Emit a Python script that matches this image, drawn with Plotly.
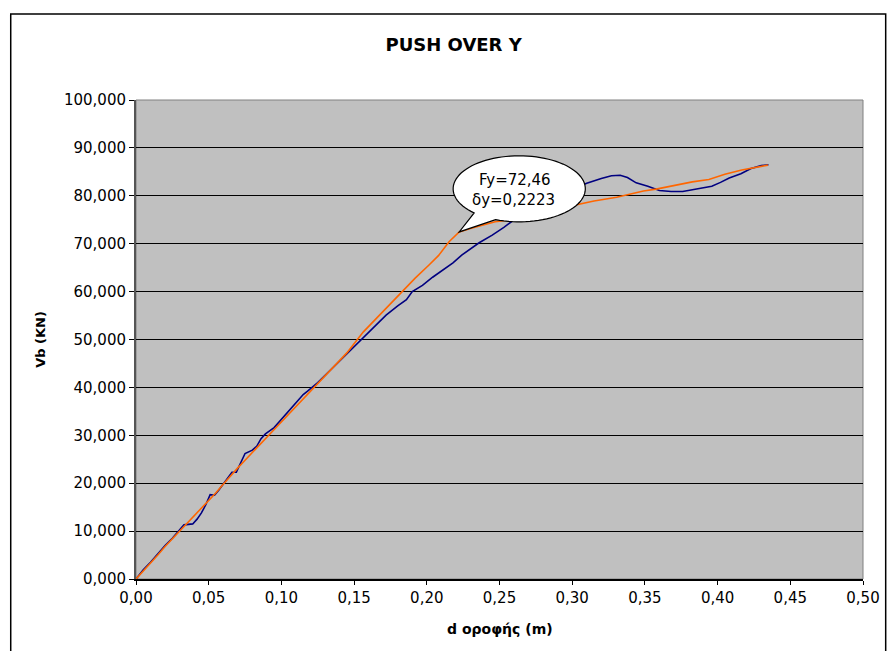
import numpy as np
import plotly.graph_objects as go

# ---------------- data ----------------
chart_title = "PUSH OVER Y"
x_title = "d οροφής (m)"
y_title = "Vb (KN)"

d_blue = [0, 0.005, 0.01, 0.015, 0.02, 0.025, 0.03, 0.033, 0.039, 0.042, 0.045, 0.048,
          0.051, 0.054, 0.057, 0.061, 0.064, 0.066, 0.069, 0.072, 0.075, 0.080, 0.083,
          0.086, 0.089, 0.095, 0.100, 0.105, 0.110, 0.115, 0.118, 0.125, 0.135, 0.145,
          0.154, 0.163, 0.172, 0.180, 0.186, 0.190, 0.197, 0.204, 0.211, 0.218, 0.224,
          0.230, 0.236, 0.245, 0.253, 0.2605, 0.270, 0.280, 0.290, 0.300, 0.310, 0.320,
          0.327, 0.333, 0.338, 0.344, 0.352, 0.360, 0.368, 0.376, 0.383, 0.390, 0.396,
          0.402, 0.408, 0.416, 0.423, 0.430, 0.435]
v_blue = [0, 1.9, 3.5, 5.3, 7.0, 8.5, 10.3, 11.3, 11.5, 12.5, 13.8, 15.5,
          17.6, 17.5, 18.6, 20.3, 21.5, 22.3, 22.3, 24.2, 26.2, 26.9, 27.7,
          29.3, 30.3, 31.6, 33.3, 35.0, 36.7, 38.5, 39.2, 41.0, 44.0, 47.0,
          49.9, 52.5, 55.1, 57.0, 58.3, 60.0, 61.3, 63.0, 64.5, 66.0, 67.6,
          68.9, 70.2, 71.8, 73.4, 75.1, 76.5, 78.3, 79.9, 81.3, 82.6, 83.6,
          84.2, 84.3, 83.8, 82.7, 82.0, 81.1, 80.9, 80.9, 81.3, 81.8, 82.0,
          82.8, 83.7, 84.6, 85.7, 86.3, 86.5]

d_orange = [0, 0.005, 0.01, 0.015, 0.02, 0.025, 0.03, 0.035, 0.04, 0.045, 0.05, 0.055,
            0.06, 0.065, 0.07, 0.075, 0.08, 0.085, 0.09, 0.095, 0.10, 0.105, 0.11,
            0.118, 0.125, 0.135, 0.145, 0.1564, 0.165, 0.175, 0.1836, 0.192, 0.2017,
            0.208, 0.2153, 0.2223, 0.230, 0.238, 0.247, 0.2605, 0.270, 0.281, 0.292,
            0.3035, 0.315, 0.3306, 0.3397, 0.349, 0.3577, 0.370, 0.3826, 0.394, 0.405,
            0.4166, 0.425, 0.4346]
v_orange = [0, 1.6, 3.3, 5.0, 6.8, 8.4, 10.0, 11.6, 13.0, 14.6, 16.3, 18.0,
            19.8, 21.6, 23.2, 24.8, 26.3, 28.0, 29.6, 31.2, 32.8, 34.4, 36.0,
            38.4, 40.6, 43.8, 47.2, 51.6, 54.3, 57.4, 60.0, 62.8, 65.6,
            67.5, 70.4, 72.46, 73.2, 73.8, 74.6, 75.1, 76.0, 76.7, 77.4,
            78.1, 78.9, 79.7, 80.4, 81.0, 81.4, 82.2, 82.9, 83.4, 84.5,
            85.4, 85.9, 86.4]

fy_value = 72.46
dy_value = 0.2223
callout_lines = ["Fy=72,46", "δy=0,2223"]

x_tick_vals = [0, 0.05, 0.10, 0.15, 0.20, 0.25, 0.30, 0.35, 0.40, 0.45, 0.50]
y_tick_vals = [0, 10, 20, 30, 40, 50, 60, 70, 80, 90, 100]

# ---------------- layout geometry ----------------
W, H = 892, 651
ML, MR, MT, MB = 136, 19, 100, 72
X_RANGE = [0, 0.5]
Y_RANGE = [0, 100]
PW = W - ML - MR
PH = H - MT - MB


def px2d(px):
    return X_RANGE[0] + (px - ML) / PW * (X_RANGE[1] - X_RANGE[0])


def py2v(py):
    return Y_RANGE[0] + (H - MB - py) / PH * (Y_RANGE[1] - Y_RANGE[0])


def d2px(d):
    return ML + (d - X_RANGE[0]) / (X_RANGE[1] - X_RANGE[0]) * PW


def v2py(v):
    return H - MB - (v - Y_RANGE[0]) / (Y_RANGE[1] - Y_RANGE[0]) * PH


def paper_x(px):
    return (px - ML) / PW


def paper_y(py):
    return (H - MB - py) / PH


FONT = "DejaVu Sans"

fig = go.Figure()
fig.add_trace(go.Scatter(x=d_blue, y=v_blue, mode="lines",
                         line=dict(color="#000080", width=1.6), showlegend=False))
fig.add_trace(go.Scatter(x=d_orange, y=v_orange, mode="lines",
                         line=dict(color="#FF6600", width=1.6), showlegend=False))

# callout balloon (ellipse + tail) built in pixel space, converted to data space
cx, cy, rx, ry = 524.5, 188.8, 67.0, 33.0
tip = (d2px(dy_value), v2py(fy_value))
a_start, a_end = np.deg2rad(111.0), np.deg2rad(133.0 - 360.0)
angles = np.linspace(a_start, a_end, 90)
pts = [(cx + rx * np.cos(a), cy + ry * np.sin(a)) for a in angles]
pts.append(tip)
path = "M " + " L ".join(f"{px2d(x):.6f},{py2v(y):.4f}" for x, y in pts) + " Z"

shapes = [
    dict(type="rect", xref="paper", yref="paper", x0=0, x1=1, y0=0, y1=1,
         line=dict(color="#808080", width=1), layer="between"),
    dict(type="rect", xref="paper", yref="paper",
         x0=paper_x(9), x1=paper_x(896), y0=paper_y(14), y1=paper_y(680),
         line=dict(color="#000000", width=1.5), layer="above"),
    dict(type="path", xref="x", yref="y", path=path,
         fillcolor="white", line=dict(color="black", width=1.2), layer="above"),
]

annotations = [
    dict(x=px2d(520), y=py2v(179.5), xref="x", yref="y", text=callout_lines[0],
         showarrow=False, font=dict(family=FONT, size=15, color="black"),
         xanchor="center", yanchor="middle"),
    dict(x=px2d(519), y=py2v(199.5), xref="x", yref="y", text=callout_lines[1],
         showarrow=False, font=dict(family=FONT, size=15, color="black"),
         xanchor="center", yanchor="middle"),
    dict(x=0.5, y=paper_y(629), xref="paper", yref="paper", text=f"<b>{x_title}</b>",
         showarrow=False, font=dict(family=FONT, size=14, color="black"),
         xanchor="center", yanchor="middle"),
    dict(x=paper_x(39), y=0.5, xref="paper", yref="paper", text=f"<b>{y_title}</b>",
         showarrow=False, textangle=-90, font=dict(family=FONT, size=13, color="black"),
         xanchor="center", yanchor="middle"),
]

fig.update_layout(
    width=W, height=H, autosize=False,
    margin=dict(l=ML, r=MR, t=MT, b=MB, pad=0),
    paper_bgcolor="white", plot_bgcolor="#C0C0C0",
    separators=",.",
    title=dict(text=f"<b>{chart_title}</b>", x=paper_x(458), xref="paper", xanchor="center",
               y=1 - 45 / H, yref="container", yanchor="middle",
               font=dict(family=FONT, size=18, color="black")),
    shapes=shapes, annotations=annotations,
    xaxis=dict(range=X_RANGE, tickvals=x_tick_vals, tickformat=".2f",
               showgrid=False, zeroline=False, showline=True, linecolor="black",
               linewidth=1.5, ticks="outside", ticklen=4, tickcolor="black",
               tickfont=dict(family=FONT, size=15, color="black"), fixedrange=True),
    yaxis=dict(range=Y_RANGE, tickvals=y_tick_vals, tickformat=".3f",
               showgrid=True, gridcolor="black", gridwidth=1, zeroline=False,
               showline=True, linecolor="#555555", linewidth=2, ticks="outside",
               ticklen=5, tickcolor="black",
               tickfont=dict(family=FONT, size=15, color="black"), fixedrange=True),
)

fig.write_html("out.html")
